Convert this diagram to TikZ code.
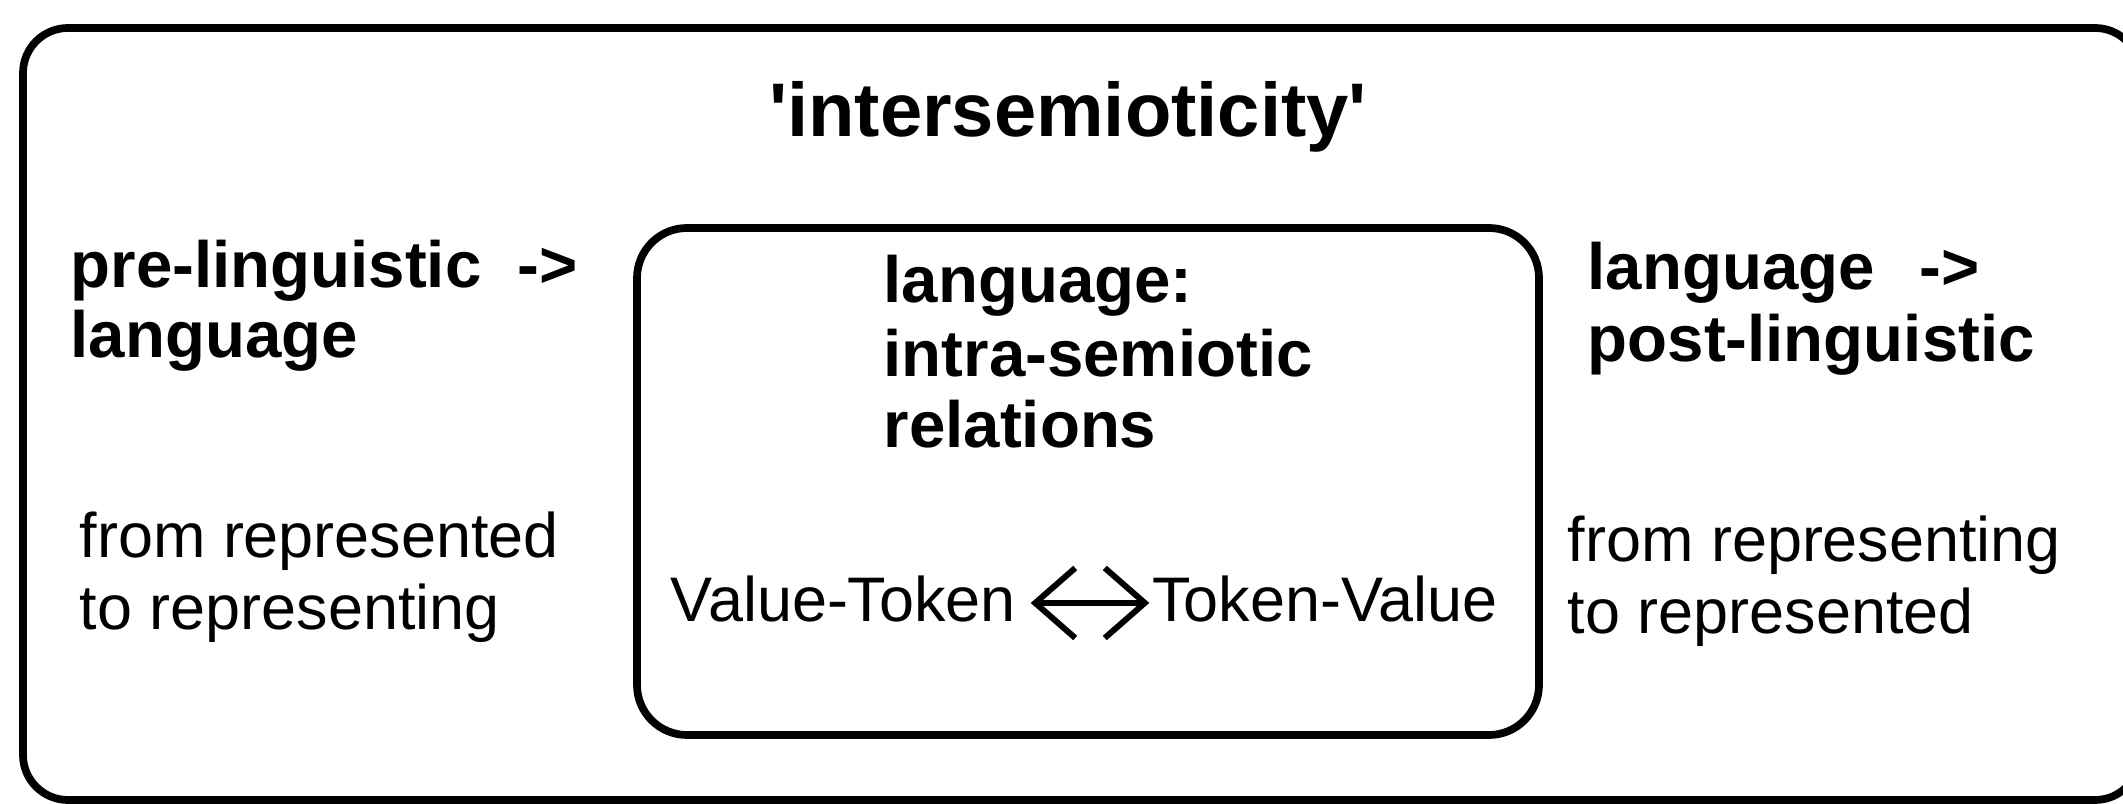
\documentclass[tikz,border=0pt]{standalone}
\usepackage{fontspec}
\setmainfont{Liberation Sans}
\usetikzlibrary{arrows.meta}
\begin{document}
\begin{tikzpicture}[x=0.01cm,y=-0.01cm,
  frame/.style={draw, line width=2.2pt, rounded corners=0.45cm},
  tt/.style={font=\bfseries\fontsize{21.6}{24}\selectfont, inner sep=0pt, anchor=base},
  bt/.style={font=\bfseries\fontsize{18.6}{20}\selectfont, inner sep=0pt, anchor=base west},
  rt/.style={font=\fontsize{17.9}{20}\selectfont, inner sep=0pt, anchor=base west},
  barb/.tip={Straight Barb[length=0.4cm,width=0.7cm]},
  dbl/.style={line width=1.7pt, barb-barb}
]
\useasboundingbox (0,0) rectangle (2123,804);
% outer and inner frames
\draw[frame] (23,28) rectangle (2140,800);
\draw[frame, rounded corners=0.5cm] (637,228) rectangle (1539,735);
% title
\node[tt] (title) at (1068,137) {\textquotesingle intersemioticity\textquotesingle};
% left column
\node[bt] (l1) at (70,288) {pre-linguistic\hspace{0.36cm}->};
\node[bt] (l2) at (70,358) {language};
\node[rt] (l3) at (79,558) {from represented};
\node[rt] (l4) at (79,630) {to representing};
% centre column
\node[bt] (c1) at (883,303) {language:};
\node[bt] (c2) at (883,377) {intra-semiotic};
\node[bt] (c3) at (883,448) {relations};
\node[rt] (vt) at (670,622) {Value-Token};
\node[rt, anchor=base east] (tv) at (1498,622) {Token-Value};
\draw[dbl] ([xshift=0.14cm,yshift=0.19cm]vt.base east) -- ([xshift=-0.02cm,yshift=0.19cm]tv.base west);
% right column
\node[bt] (r1) at (1587,290) {language\hspace{0.45cm}->};
\node[bt] (r2) at (1587,362) {post-linguistic};
\node[rt] (r3) at (1567,562) {from representing};
\node[rt] (r4) at (1567,634) {to represented};
\end{tikzpicture}
\end{document}
